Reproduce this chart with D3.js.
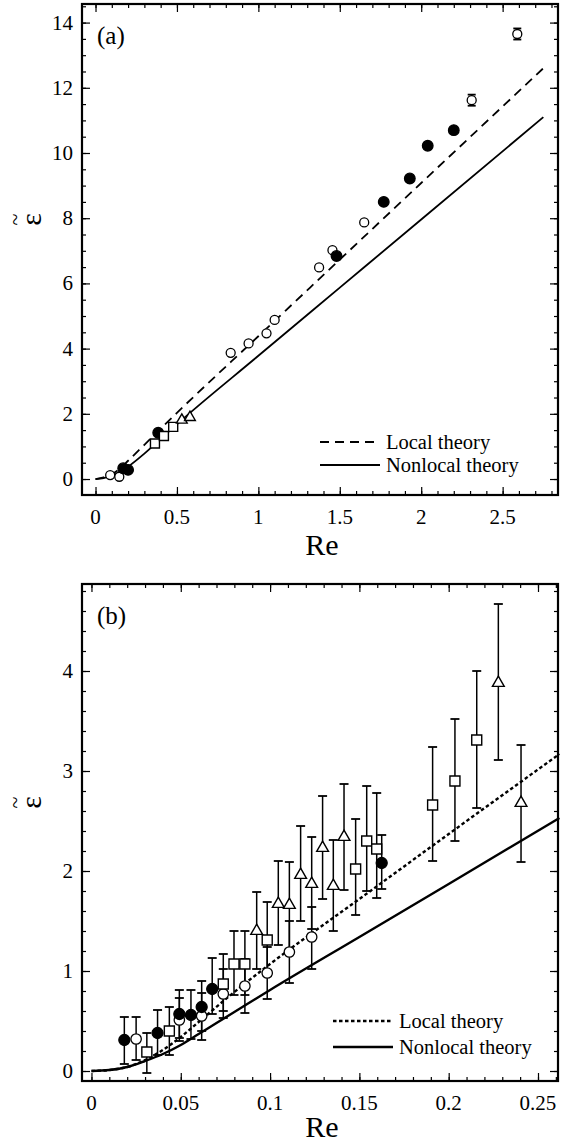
<!DOCTYPE html>
<html>
<head>
<meta charset="utf-8">
<script src="https://cdnjs.cloudflare.com/ajax/libs/d3/7.8.5/d3.min.js"></script>
<style>
body { margin: 0; background: #fff; }
</style>
</head>
<body>
<script>
// ---- Panel (a) data ----
var aOpenRe = [0.09, 0.146, 0.83, 0.94, 1.05, 1.10, 1.373, 1.455, 1.65, 2.31, 2.59];
var aOpenEps = [0.12, 0.07, 3.87, 4.16, 4.47, 4.88, 6.49, 7.02, 7.87, 11.62, 13.65];
var aOpenErr = [0, 0, 0, 0, 0, 0, 0, 0, 0, 0.17, 0.17];
var aFilledRe = [0.17, 0.2, 0.385, 1.48, 1.77, 1.93, 2.04, 2.2];
var aFilledEps = [0.33, 0.28, 1.42, 6.84, 8.5, 9.22, 10.22, 10.7];
var aSquareRe = [0.365, 0.42, 0.477];
var aSquareEps = [1.09, 1.32, 1.60];
var aTriRe = [0.53, 0.58];
var aTriEps = [1.81, 1.89];
var aLocalRe = [0, 0.05, 0.1, 0.15, 0.2, 0.3, 0.5, 1, 2, 2.75];
var aLocalEps = [0, 0.05, 0.15, 0.32, 0.56, 1.05, 2.03, 4.38, 9.08, 12.6];
var aNonlocalRe = [0, 0.05, 0.1, 0.15, 0.2, 0.3, 0.4, 0.5, 1, 1.5, 2, 2.75];
var aNonlocalEps = [0, 0.03, 0.1, 0.22, 0.38, 0.78, 1.23, 1.68, 3.78, 5.87, 7.96, 11.1];
var aXTicks = [0, 0.5, 1, 1.5, 2, 2.5];
var aXLabels = ["0", "0.5", "1", "1.5", "2", "2.5"];
var aYTicks = [0, 2, 4, 6, 8, 10, 12, 14];
var aYLabels = ["0", "2", "4", "6", "8", "10", "12", "14"];

// ---- Panel (b) data ----
var bFilledRe = [0.0184, 0.037, 0.0492, 0.0557, 0.0617, 0.0676, 0.1625];
var bFilledEps = [0.31, 0.38, 0.57, 0.56, 0.64, 0.82, 2.08];
var bFilledLo = [0.07, 0.16, 0.33, 0.32, 0.40, 0.57, 1.82];
var bFilledHi = [0.54, 0.61, 0.81, 0.81, 0.90, 1.13, 2.36];
var bOpenRe = [0.025, 0.0492, 0.0617, 0.0738, 0.0859, 0.0984, 0.1108, 0.1233];
var bOpenEps = [0.32, 0.51, 0.55, 0.77, 0.85, 0.98, 1.19, 1.34];
var bOpenLo = [0.11, 0.30, 0.31, 0.53, 0.58, 0.72, 0.88, 1.02];
var bOpenHi = [0.54, 0.73, 0.78, 1.02, 1.12, 1.24, 1.50, 1.64];
var bSquareRe = [0.031, 0.0436, 0.0738, 0.0798, 0.0859, 0.0984, 0.1479, 0.1541, 0.1597, 0.191, 0.2035, 0.2157];
var bSquareEps = [0.19, 0.40, 0.87, 1.07, 1.07, 1.31, 2.02, 2.30, 2.22, 2.66, 2.90, 3.31];
var bSquareLo = [-0.02, 0.16, 0.60, 0.76, 0.76, 0.95, 1.56, 1.80, 1.73, 2.10, 2.30, 2.63];
var bSquareHi = [0.38, 0.64, 1.17, 1.40, 1.40, 1.69, 2.52, 2.85, 2.78, 3.24, 3.52, 4.00];
var bTriRe = [0.0925, 0.1046, 0.1108, 0.1171, 0.1233, 0.1294, 0.1354, 0.1414, 0.2278, 0.2405];
var bTriEps = [1.40, 1.67, 1.66, 1.96, 1.87, 2.23, 1.85, 2.34, 3.88, 2.68];
var bTriLo = [1.02, 1.26, 1.22, 1.50, 1.42, 1.72, 1.40, 1.81, 3.11, 2.09];
var bTriHi = [1.79, 2.10, 2.09, 2.45, 2.34, 2.75, 2.31, 2.87, 4.67, 3.26];
var bLocalRe = [0, 0.01, 0.02, 0.03, 0.04, 0.05, 0.06, 0.08, 0.1, 0.15, 0.2, 0.262];
var bLocalEps = [0, 0.01, 0.04, 0.11, 0.21, 0.34, 0.49, 0.79, 1.07, 1.72, 2.37, 3.17];
var bNonlocalRe = [0, 0.01, 0.02, 0.03, 0.04, 0.05, 0.06, 0.07, 0.08, 0.1, 0.15, 0.2, 0.262];
var bNonlocalEps = [0, 0.01, 0.04, 0.1, 0.17, 0.26, 0.37, 0.48, 0.59, 0.81, 1.34, 1.87, 2.53];
var bXTicks = [0, 0.05, 0.1, 0.15, 0.2, 0.25];
var bXLabels = ["0", "0.05", "0.1", "0.15", "0.2", "0.25"];
var bYTicks = [0, 1, 2, 3, 4];
var bYLabels = ["0", "1", "2", "3", "4"];

var legendNames = ["Local theory", "Nonlocal theory"];

var serif = "Liberation Serif";

var svg = d3.select("body").append("svg")
    .attr("width", 563)
    .attr("height", 1142);

function zipPts(xs, ys) {
    return xs.map(function(v, i) { return [v, ys[i]]; });
}

function drawPanel(p) {
    var x = d3.scaleLinear().domain(p.xDomain).range([p.left, p.right]);
    var y = d3.scaleLinear().domain(p.yDomain).range([p.bottom, p.top]);
    var g = svg.append("g");

    // ticks on all four sides, pointing in
    function ticks(axis, vals, size, tx, ty) {
        g.append("g")
            .attr("transform", "translate(" + tx + "," + ty + ")")
            .call(axis.tickValues(vals).tickSize(size).tickFormat(""))
            .call(function(s) { s.select(".domain").remove(); s.selectAll("line").attr("stroke-width", 1.2); });
    }
    ticks(d3.axisBottom(x), p.xMinor, -4, 0, p.bottom);
    ticks(d3.axisBottom(x), p.xTicks, -8, 0, p.bottom);
    ticks(d3.axisTop(x), p.xMinor, -4, 0, p.top);
    ticks(d3.axisTop(x), p.xTicks, -8, 0, p.top);
    ticks(d3.axisLeft(y), p.yMinor, -4, p.left, 0);
    ticks(d3.axisLeft(y), p.yTicks, -8, p.left, 0);
    ticks(d3.axisRight(y), p.yMinor, -4, p.right, 0);
    ticks(d3.axisRight(y), p.yTicks, -8, p.right, 0);

    // tick labels
    g.selectAll(".xl").data(p.xTicks).enter().append("text")
        .attr("x", function(d) { return x(d); })
        .attr("y", p.bottom + 29)
        .attr("text-anchor", "middle")
        .attr("font-size", 21)
        .attr("font-family", serif)
        .text(function(d, i) { return p.xLabels[i]; });
    g.selectAll(".yl").data(p.yTicks).enter().append("text")
        .attr("x", p.left - 9)
        .attr("y", function(d) { return y(d) + 7; })
        .attr("text-anchor", "end")
        .attr("font-size", 21)
        .attr("font-family", serif)
        .text(function(d, i) { return p.yLabels[i]; });

    // theory curves
    var line = d3.line()
        .x(function(d) { return x(d[0]); })
        .y(function(d) { return y(d[1]); })
        .curve(d3.curveMonotoneX);
    g.append("path").datum(zipPts(p.localRe, p.localEps))
        .attr("d", line).attr("fill", "none").attr("stroke", "#000")
        .attr("stroke-width", p.lineW).attr("stroke-dasharray", p.dash);
    g.append("path").datum(zipPts(p.nonRe, p.nonEps))
        .attr("d", line).attr("fill", "none").attr("stroke", "#000")
        .attr("stroke-width", p.lineW);

    // error bars
    p.series.forEach(function(s) {
        if (!s.lo) return;
        s.re.forEach(function(r, i) {
            if (s.lo[i] === s.hi[i]) return;
            var cx = x(r);
            g.append("line").attr("x1", cx).attr("x2", cx)
                .attr("y1", y(s.lo[i])).attr("y2", y(s.hi[i]))
                .attr("stroke", "#000").attr("stroke-width", 1.5);
            [s.lo[i], s.hi[i]].forEach(function(v) {
                g.append("line").attr("x1", cx - p.cap).attr("x2", cx + p.cap)
                    .attr("y1", y(v)).attr("y2", y(v))
                    .attr("stroke", "#000").attr("stroke-width", 1.8);
            });
        });
    });

    // markers
    p.series.forEach(function(s) {
        var pts = zipPts(s.re, s.eps);
        if (s.kind === "open" || s.kind === "filled") {
            g.selectAll(null).data(pts).enter().append("circle")
                .attr("cx", function(d) { return x(d[0]); })
                .attr("cy", function(d) { return y(d[1]); })
                .attr("r", s.kind === "open" ? p.rOpen : p.rFilled)
                .attr("fill", s.kind === "open" ? "#fff" : "#000")
                .attr("stroke", "#000").attr("stroke-width", 1.3);
        } else {
            var sym = d3.symbol()
                .type(s.kind === "square" ? d3.symbolSquare : d3.symbolTriangle)
                .size(s.kind === "square" ? p.sq * p.sq : p.tri);
            g.selectAll(null).data(pts).enter().append("path")
                .attr("d", sym)
                .attr("transform", function(d) { return "translate(" + x(d[0]) + "," + y(d[1]) + ")"; })
                .attr("fill", "#fff").attr("stroke", "#000").attr("stroke-width", 1.4);
        }
    });

    // frame
    g.append("rect")
        .attr("x", p.left).attr("y", p.top)
        .attr("width", p.right - p.left).attr("height", p.bottom - p.top)
        .attr("fill", "none").attr("stroke", "#000").attr("stroke-width", 2.2);

    // legend
    p.legendY.forEach(function(ly, i) {
        g.append("line")
            .attr("x1", p.legendX).attr("x2", p.legendX + 60)
            .attr("y1", ly).attr("y2", ly)
            .attr("stroke", "#000").attr("stroke-width", p.lineW)
            .attr("stroke-dasharray", i === 0 ? p.dash : null);
        g.append("text")
            .attr("x", p.legendX + 66).attr("y", ly + 7)
            .attr("font-size", 20.5)
            .attr("font-family", serif)
            .text(legendNames[i]);
    });

    // panel tag and axis titles
    g.append("text").attr("x", p.left + 15).attr("y", p.top + 40)
        .attr("font-size", 25).attr("font-family", serif).text(p.tag);
    g.append("text").attr("x", (p.left + p.right) / 2 + 2).attr("y", p.bottom + p.reGap)
        .attr("text-anchor", "middle").attr("font-size", 30)
        .attr("font-family", serif).text("Re");

    // y title: epsilon with a tilde over it, turned on its side
    var yt = g.append("g")
        .attr("transform", "translate(41," + ((p.top + p.bottom) / 2 - 30) + ") rotate(-90)");
    yt.append("text").attr("text-anchor", "middle").attr("font-size", 30)
        .attr("font-family", serif).text("\u03b5");
    yt.append("text").attr("text-anchor", "middle").attr("y", -19).attr("font-size", 22)
        .attr("font-family", serif).text("~");
}

drawPanel({
    left: 82, right: 558, top: 4, bottom: 495, reGap: 60,
    xDomain: [-0.083, 2.84], yDomain: [-0.49, 14.57],
    xTicks: aXTicks, xLabels: aXLabels, yTicks: aYTicks, yLabels: aYLabels,
    xMinor: d3.range(0, 2.81, 0.1), yMinor: d3.range(0, 14.51, 0.5),
    localRe: aLocalRe, localEps: aLocalEps, nonRe: aNonlocalRe, nonEps: aNonlocalEps,
    lineW: 1.8, dash: "9,6", cap: 4, rOpen: 4.5, rFilled: 5.3, sq: 9, tri: 50,
    series: [
        { kind: "open", re: aOpenRe, eps: aOpenEps,
          lo: aOpenEps.map(function(v, i) { return v - aOpenErr[i]; }),
          hi: aOpenEps.map(function(v, i) { return v + aOpenErr[i]; }) },
        { kind: "filled", re: aFilledRe, eps: aFilledEps },
        { kind: "square", re: aSquareRe, eps: aSquareEps },
        { kind: "triangle", re: aTriRe, eps: aTriEps }
    ],
    legendX: 320, legendY: [442, 465], tag: "(a)"
});

drawPanel({
    left: 82, right: 558, top: 584, bottom: 1081, reGap: 56,
    xDomain: [-0.0053, 0.2612], yDomain: [-0.10, 4.87],
    xTicks: bXTicks, xLabels: bXLabels, yTicks: bYTicks, yLabels: bYLabels,
    xMinor: d3.range(0, 0.2605, 0.01), yMinor: d3.range(0, 4.81, 0.2),
    localRe: bLocalRe, localEps: bLocalEps, nonRe: bNonlocalRe, nonEps: bNonlocalEps,
    lineW: 2.4, dash: "3.5,2.5", cap: 4.5, rOpen: 5.2, rFilled: 5.5, sq: 10, tri: 60,
    series: [
        { kind: "open", re: bOpenRe, eps: bOpenEps, lo: bOpenLo, hi: bOpenHi },
        { kind: "square", re: bSquareRe, eps: bSquareEps, lo: bSquareLo, hi: bSquareHi },
        { kind: "triangle", re: bTriRe, eps: bTriEps, lo: bTriLo, hi: bTriHi },
        { kind: "filled", re: bFilledRe, eps: bFilledEps, lo: bFilledLo, hi: bFilledHi }
    ],
    legendX: 333, legendY: [1021, 1047], tag: "(b)"
});
</script>
</body>
</html>
